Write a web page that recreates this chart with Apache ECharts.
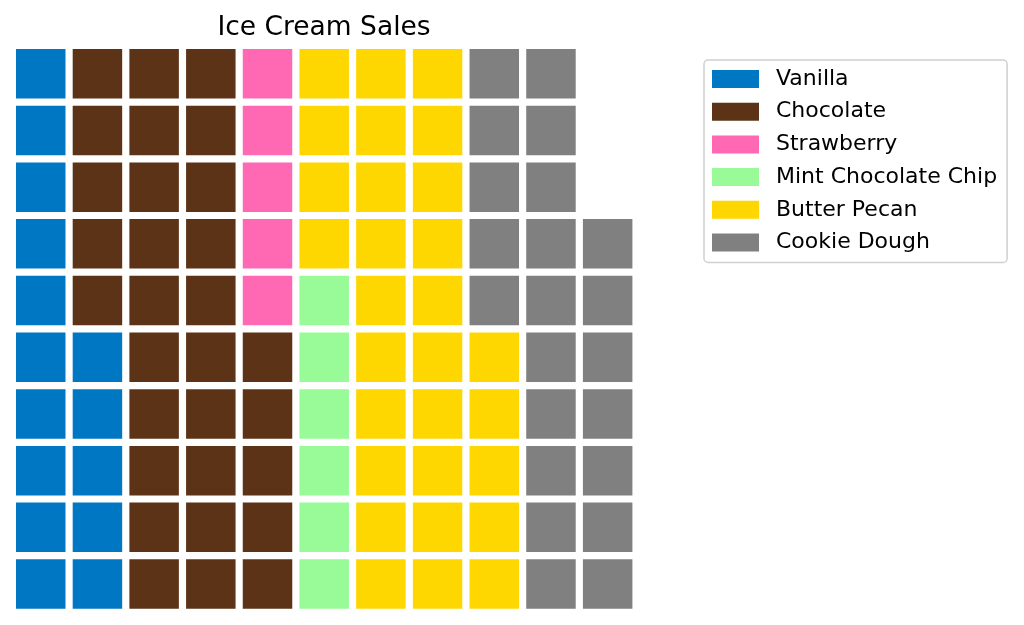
<!DOCTYPE html>
<html>
<head>
<meta charset="utf-8">
<script src="https://cdn.jsdelivr.net/npm/echarts@6/dist/echarts.min.js"></script>
<style>html,body{margin:0;padding:0;background:#fff;}#c{width:1024px;height:625px;}</style>
</head>
<body>
<div id="c"></div>
<script>
var categories = ['Vanilla', 'Chocolate', 'Strawberry', 'Mint Chocolate Chip', 'Butter Pecan', 'Cookie Dough'];
var counts = [15, 30, 5, 6, 29, 22];
var colors = ['#0077C2', '#5C3317', '#FF69B4', '#98FB98', '#FFD700', '#808080'];
var nCols = 11, nRows = 10;

var chart = echarts.init(document.getElementById('c'));
var series = [];
var k = 0;
categories.forEach(function (name, i) {
  var data = [];
  for (var j = 0; j < counts[i]; j++) {
    data.push([Math.floor(k / nRows), k % nRows]);
    k++;
  }
  series.push({
    name: name,
    type: 'custom',
    itemStyle: { color: colors[i] },
    data: data,
    renderItem: function (params, api) {
      var c = api.coord([api.value(0), api.value(1)]);
      var s = api.size([1, 1]);
      var w = s[0] * 0.873, h = s[1] * 0.873;
      return {
        type: 'rect',
        shape: { x: c[0] - w / 2, y: c[1] - h / 2, width: w, height: h },
        style: { fill: colors[i] }
      };
    }
  });
});

chart.setOption({
  animation: false,
  title: {
    text: 'Ice Cream Sales',
    left: 319, top: 10, textAlign: 'center',
    textStyle: { fontFamily: 'DejaVu Sans', fontSize: 26.5, fontWeight: 'normal', color: '#000' }
  },
  legend: {
    orient: 'vertical',
    left: 704, top: 60,
    padding: [8, 10, 9, 8],
    icon: 'rect',
    itemWidth: 47, itemHeight: 18,
    itemGap: 10.7,
    borderColor: '#d0d0d0', borderWidth: 1.5, borderRadius: 4,
    textStyle: { fontFamily: 'DejaVu Sans', fontSize: 22, lineHeight: 22, color: '#000', padding: [0, 0, 0, 12] },
    data: categories
  },
  grid: { left: 12.4, right: 388, top: 45.4, bottom: 12.6 },
  xAxis: { type: 'value', min: -0.5, max: nCols - 0.5, show: false },
  yAxis: { type: 'value', min: -0.5, max: nRows - 0.5, show: false },
  series: series
});
</script>
</body>
</html>
